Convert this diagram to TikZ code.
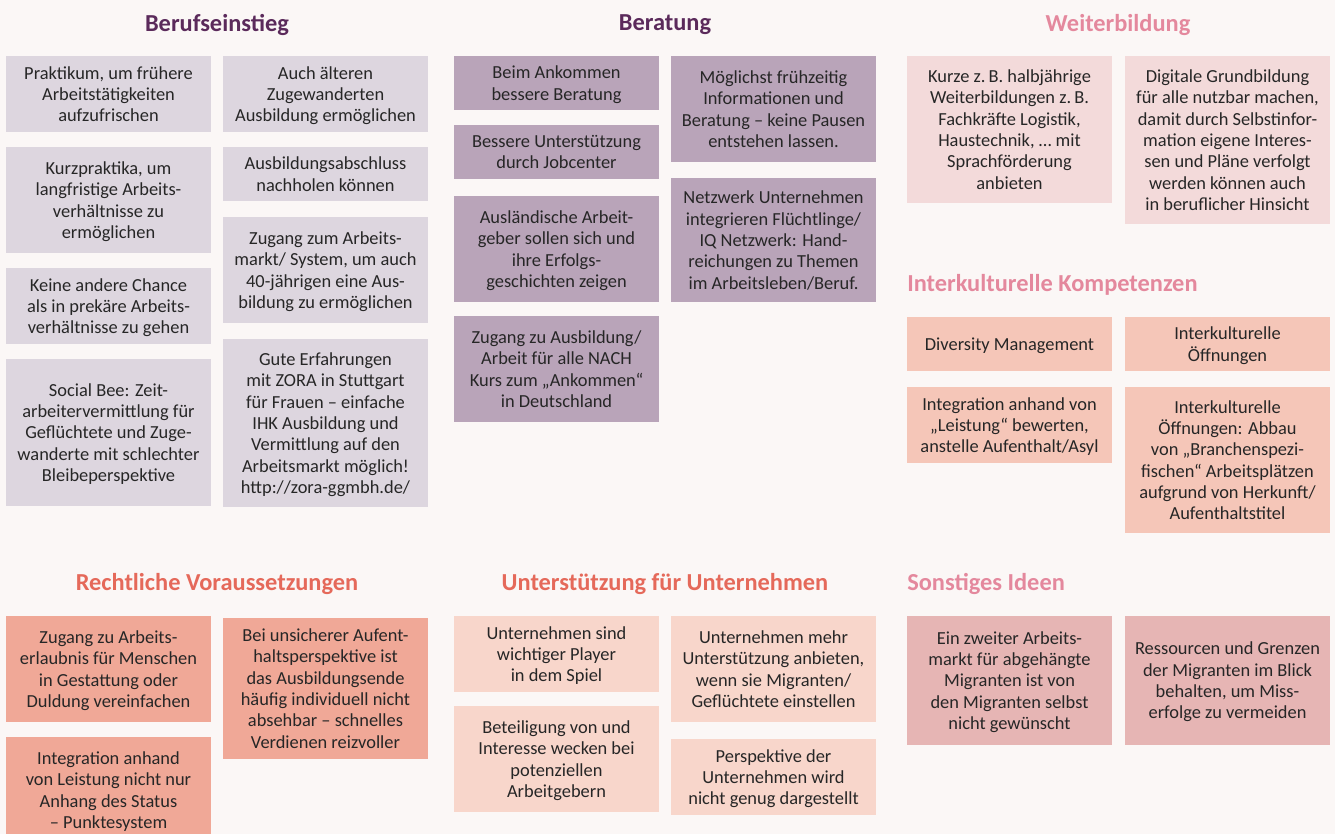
\documentclass[tikz,border=0pt]{standalone}
\usepackage{fontspec}
\setmainfont{Carlito}
\usepackage{tikz}

\definecolor{bgcol}{HTML}{FBF7F6}
\definecolor{berufFill}{HTML}{DDD6DF}
\definecolor{beratFill}{HTML}{B9A4B9}
\definecolor{weiterFill}{HTML}{F3DADA}
\definecolor{kulturFill}{HTML}{F5C6B8}
\definecolor{rechtFill}{HTML}{F0A897}
\definecolor{unterFill}{HTML}{F8D6CB}
\definecolor{sonstFill}{HTML}{E6B5B4}
\definecolor{purpleHead}{HTML}{5B2A5B}
\definecolor{pinkHead}{HTML}{E4889D}
\definecolor{coralHead}{HTML}{E5695A}
\definecolor{bodyText}{HTML}{262626}

\begin{document}
\begin{tikzpicture}[x=0.75pt,y=-0.75pt,
  card/.style={minimum width=153.75pt, inner sep=0pt, align=center,
    text depth=0pt, text=bodyText, font=\fontsize{13.8}{16}\selectfont},
  beruf/.style={card, fill=berufFill},
  berat/.style={card, fill=beratFill},
  weiter/.style={card, fill=weiterFill},
  kultur/.style={card, fill=kulturFill},
  recht/.style={card, fill=rechtFill},
  unter/.style={card, fill=unterFill},
  sonst/.style={card, fill=sonstFill},
  head/.style={font=\bfseries\fontsize{18.3}{22}\selectfont, inner sep=0pt}]
\useasboundingbox (0,0) rectangle (1335,834);
\fill [bgcol] (0,0) rectangle (1335,834);
\clip (0,0) rectangle (1335,834);

% Berufseinstieg
\node [head, text=purpleHead] (berufHead) at (217,25) {Berufseinstieg};
\node [beruf, minimum height=57pt] (praktikum) at (108.5,94) {Praktikum, um frühere\\Arbeitstätigkeiten\\aufzufrischen};
\node [beruf, minimum height=79.5pt] (kurzpraktika) at (108.5,200) {Kurzpraktika, um\\langfristige Arbeits-\\verhältnisse zu\\ermöglichen};
\node [beruf, minimum height=57pt] (keineChance) at (108.5,306) {Keine andere Chance\\als in prekäre Arbeits-\\verhältnisse zu gehen};
\node [beruf, minimum height=110.25pt] (socialBee) at (108.5,432.5) {Social Bee: Zeit-\\arbeitervermittlung für\\Geflüchtete und Zuge-\\wanderte mit schlechter\\Bleibeperspektive};
\node [beruf, minimum height=57pt] (aeltere) at (325.5,94) {Auch älteren\\Zugewanderten\\Ausbildung ermöglichen};
\node [beruf, minimum height=40.5pt] (abschluss) at (325.5,174) {Ausbildungsabschluss\\nachholen können};
\node [beruf, minimum height=79.5pt] (zugangMarkt) at (325.5,270) {Zugang zum Arbeits-\\markt/ System, um auch\\40-jährigen eine Aus-\\bildung zu ermöglichen};
\node [beruf, minimum height=126pt] (zora) at (325.5,423) {Gute Erfahrungen\\mit ZORA in Stuttgart\\für Frauen – einfache\\IHK Ausbildung und\\Vermittlung auf den\\Arbeitsmarkt möglich!\\http://zora-ggmbh.de/};

% Beratung
\node [head, text=purpleHead] (beratHead) at (665,25) {Beratung};
\node [berat, minimum height=40.5pt] (ankommen) at (556.5,83) {Beim Ankommen\\bessere Beratung};
\node [berat, minimum height=40.5pt] (jobcenter) at (556.5,152) {Bessere Unterstützung\\durch Jobcenter};
\node [berat, minimum height=79.5pt] (arbeitgeber) at (556.5,249) {Ausländische Arbeit-\\geber sollen sich und\\ihre Erfolgs-\\geschichten zeigen};
\node [berat, minimum height=79.5pt] (nachKurs) at (556.5,369) {Zugang zu Ausbildung/\\Arbeit für alle NACH\\Kurs zum „Ankommen“\\in Deutschland};
\node [berat, minimum height=79.5pt] (fruehzeitig) at (773.5,109) {Möglichst frühzeitig\\Informationen und\\Beratung – keine Pausen\\entstehen lassen.};
\node [berat, minimum height=93pt] (netzwerk) at (773.5,240) {Netzwerk Unternehmen\\integrieren Flüchtlinge/\\IQ Netzwerk: Hand-\\reichungen zu Themen\\im Arbeitsleben/Beruf.};

% Weiterbildung
\node [head, text=pinkHead] (weiterHead) at (1118,25) {Weiterbildung};
\node [weiter, minimum height=110.25pt] (kurze) at (1009.5,129.5) {Kurze z.\,B. halbjährige\\Weiterbildungen z.\,B.\\Fachkräfte Logistik,\\Haustechnik, … mit\\Sprachförderung\\anbieten};
\node [weiter, minimum height=126pt] (digital) at (1227.5,140) {Digitale Grundbildung\\für alle nutzbar machen,\\damit durch Selbstinfor-\\mation eigene Interes-\\sen und Pläne verfolgt\\werden können auch\\in beruflicher Hinsicht};

% Interkulturelle Kompetenzen
\node [head, text=pinkHead, anchor=west] (kulturHead) at (907,285) {Interkulturelle Kompetenzen};
\node [kultur, minimum height=40.5pt] (diversity) at (1009.5,344) {Diversity Management};
\node [kultur, minimum height=40.5pt] (oeffnungen) at (1227.5,344) {Interkulturelle\\Öffnungen};
\node [kultur, minimum height=57pt] (leistung) at (1009.5,425) {Integration anhand von\\„Leistung“ bewerten,\\anstelle Aufenthalt/Asyl};
\node [kultur, minimum height=109.5pt] (abbau) at (1227.5,460) {Interkulturelle\\Öffnungen: Abbau\\von „Branchenspezi-\\fischen“ Arbeitsplätzen\\aufgrund von Herkunft/\\Aufenthaltstitel};

% Rechtliche Voraussetzungen
\node [head, text=coralHead] (rechtHead) at (217,584) {Rechtliche Voraussetzungen};
\node [recht, minimum height=79.5pt] (erlaubnis) at (108.5,669) {Zugang zu Arbeits-\\erlaubnis für Menschen\\in Gestattung oder\\Duldung vereinfachen};
\node [recht, minimum height=79.5pt] (punkte) at (108.5,790) {Integration anhand\\von Leistung nicht nur\\Anhang des Status\\– Punktesystem};
\node [recht, minimum height=105.75pt] (unsicher) at (325.5,688.5) {Bei unsicherer Aufent-\\haltsperspektive ist\\das Ausbildungsende\\häufig individuell nicht\\absehbar – schnelles\\Verdienen reizvoller};

% Unterstützung für Unternehmen
\node [head, text=coralHead] (unterHead) at (665,584) {Unterstützung für Unternehmen};
\node [unter, minimum height=57pt] (player) at (556.5,654) {Unternehmen sind\\wichtiger Player\\in dem Spiel};
\node [unter, minimum height=79.5pt] (beteiligung) at (556.5,759) {Beteiligung von und\\Interesse wecken bei\\potenziellen\\Arbeitgebern};
\node [unter, minimum height=79.5pt] (mehrHilfe) at (773.5,669) {Unternehmen mehr\\Unterstützung anbieten,\\wenn sie Migranten/\\Geflüchtete einstellen};
\node [unter, minimum height=57pt] (perspektive) at (773.5,777) {Perspektive der\\Unternehmen wird\\nicht genug dargestellt};

% Sonstiges Ideen
\node [head, text=pinkHead, anchor=west] (sonstHead) at (907,584) {Sonstiges Ideen};
\node [sonst, minimum height=96.75pt] (zweiterMarkt) at (1009.5,680.5) {Ein zweiter Arbeits-\\markt für abgehängte\\Migranten ist von\\den Migranten selbst\\nicht gewünscht};
\node [sonst, minimum height=96.75pt] (ressourcen) at (1227.5,680.5) {Ressourcen und Grenzen\\der Migranten im Blick\\behalten, um Miss-\\erfolge zu vermeiden};
\end{tikzpicture}
\end{document}
